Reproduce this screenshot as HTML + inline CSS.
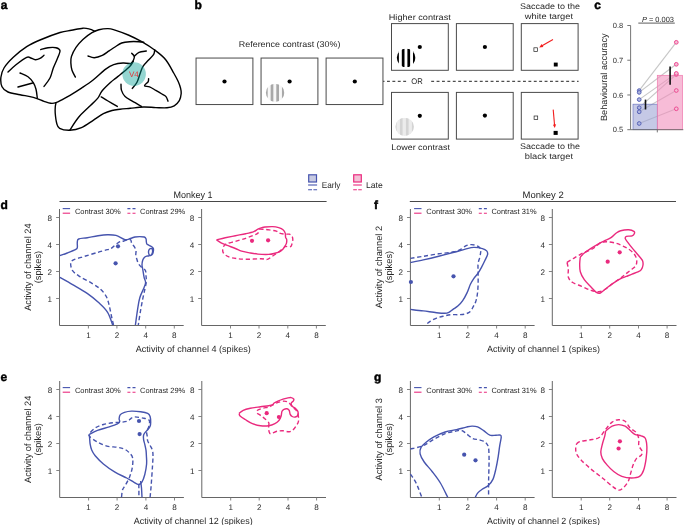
<!DOCTYPE html>
<html><head><meta charset="utf-8"><style>
html,body{margin:0;padding:0;background:#fff;}
svg{display:block;}
text{font-family:"Liberation Sans",sans-serif;text-rendering:geometricPrecision;}
svg{will-change:transform;}
</style></head><body>
<svg width="685" height="525" viewBox="0 0 685 525">
<rect width="685" height="525" fill="#fff"/>
<text x="0.8" y="9.2" font-size="12" text-anchor="start" font-weight="bold" fill="#000" stroke="#000" stroke-width="0.45">a</text>
<text x="194.6" y="9.1" font-size="12" text-anchor="start" font-weight="bold" fill="#000" stroke="#000" stroke-width="0.45">b</text>
<text x="594.3" y="9.1" font-size="12" text-anchor="start" font-weight="bold" fill="#000" stroke="#000" stroke-width="0.45">c</text>
<text x="0.6" y="209" font-size="12" text-anchor="start" font-weight="bold" fill="#000" stroke="#000" stroke-width="0.45">d</text>
<text x="0.6" y="381" font-size="12" text-anchor="start" font-weight="bold" fill="#000" stroke="#000" stroke-width="0.45">e</text>
<text x="374" y="209" font-size="12" text-anchor="start" font-weight="bold" fill="#000" stroke="#000" stroke-width="0.45">f</text>
<text x="374" y="381" font-size="12" text-anchor="start" font-weight="bold" fill="#000" stroke="#000" stroke-width="0.45">g</text>
<path d="M94.9,31.2C94.03,30.85 91.7,29.6 89.7,29.1C87.7,28.6 85.95,28 82.9,28.2C79.85,28.4 75.22,29.58 71.4,30.3C67.58,31.02 65.23,30.88 60,32.5C54.77,34.12 45.55,37.63 40,40C34.45,42.37 31.15,43.82 26.7,46.7C22.25,49.58 17.08,53.75 13.3,57.3C9.52,60.85 6.07,64.67 4,68C1.93,71.33 1.23,74.18 0.9,77.3C0.57,80.42 0.82,84.25 2,86.7C3.18,89.15 5,90.67 8,92C11,93.33 15.78,93.82 20,94.7C24.22,95.58 29.3,96.2 33.3,97.3C37.3,98.4 41.1,100.3 44,101.3C46.9,102.3 48.7,103.07 50.7,103.3C52.7,103.53 54,103.37 56,102.7C58,102.03 60.37,100.53 62.7,99.3C65.03,98.07 66.87,97.17 70,95.3C73.13,93.43 77.65,90.65 81.5,88.1C85.35,85.55 89.07,83.17 93.1,80C97.13,76.83 102.27,71.67 105.7,69.1C109.13,66.53 110.82,65.62 113.7,64.6C116.58,63.58 120.12,63.15 123,63C125.88,62.85 129.67,63.58 131,63.7" fill="none" stroke="#000" stroke-width="1.4" stroke-linecap="round" stroke-linejoin="round"/>
<path d="M75.4,77.1C74.83,75.97 72.75,72.58 72,70.3C71.25,68.02 71,65.68 70.9,63.4C70.8,61.12 70.55,59.27 71.4,56.6C72.25,53.93 74.08,50.27 76,47.4C77.92,44.53 80.23,41.87 82.9,39.4C85.57,36.93 89.33,34.22 92,32.6C94.67,30.98 96.23,30.37 98.9,29.7C101.57,29.03 105.32,28.53 108,28.6C110.68,28.67 111.62,29.03 115,30.1C118.38,31.17 123.85,33.07 128.3,35C132.75,36.93 137.25,39.15 141.7,41.7C146.15,44.25 151,47.3 155,50.3C159,53.3 162.58,55.92 165.7,59.7C168.82,63.48 171.62,69.37 173.7,73C175.78,76.63 177.07,79 178.2,81.5C179.33,84 180,86 180.5,88C181,90 181.4,91.38 181.2,93.5C181,95.62 180.47,98.65 179.3,100.7C178.13,102.75 176.25,104.62 174.2,105.8C172.15,106.98 170.07,107.5 167,107.8C163.93,108.1 159.72,107.73 155.8,107.6C151.88,107.47 147.77,106.88 143.5,107C139.23,107.12 134.12,107.92 130.2,108.3C126.28,108.68 123.03,108.93 120,109.3C116.97,109.67 114.77,109.77 112,110.5C109.23,111.23 106.53,112.07 103.4,113.7C100.27,115.33 96.85,117.98 93.2,120.3C89.55,122.62 85.4,125.95 81.5,127.6C77.6,129.25 73.45,130.08 69.8,130.2C66.15,130.32 61.78,129.47 59.6,128.3C57.42,127.13 57.43,125.75 56.7,123.2C55.97,120.65 55.43,115.75 55.2,113C54.97,110.25 55.17,108.42 55.3,106.7C55.43,104.98 55.88,103.37 56,102.7" fill="none" stroke="#000" stroke-width="1.4" stroke-linecap="round" stroke-linejoin="round"/>
<path d="M88,56C89.05,56.28 91.92,57.8 94.3,57.7C96.68,57.6 99.83,56.53 102.3,55.4C104.77,54.27 106.98,52.3 109.1,50.9C111.22,49.5 112.9,48.32 115,47C117.1,45.68 119.25,43.88 121.7,43C124.15,42.12 126.82,41.92 129.7,41.7C132.58,41.48 136.67,41.6 139,41.7C141.33,41.8 142.92,42.2 143.7,42.3" fill="none" stroke="#000" stroke-width="1.4" stroke-linecap="round" stroke-linejoin="round"/>
<path d="M131.7,53.3C132.13,53.8 134,55.18 134.3,56.3C134.6,57.42 134.05,58.77 133.5,60C132.95,61.23 131.42,63.08 131,63.7" fill="none" stroke="#000" stroke-width="1.4" stroke-linecap="round" stroke-linejoin="round"/>
<path d="M134.3,56.3C135.08,55.63 137,53.18 139,52.3C141,51.42 145.08,51.22 146.3,51" fill="none" stroke="#000" stroke-width="1.4" stroke-linecap="round" stroke-linejoin="round"/>
<path d="M154.7,49.7C154.53,50.47 154.77,52.53 153.7,54.3C152.63,56.07 150.08,58.3 148.3,60.3C146.52,62.3 144.33,64.18 143,66.3C141.67,68.42 141.3,70.33 140.3,73C139.3,75.67 138.33,79.73 137,82.3C135.67,84.87 133.08,87.38 132.3,88.4" fill="none" stroke="#000" stroke-width="1.4" stroke-linecap="round" stroke-linejoin="round"/>
<path d="M148.6,78.7C148.52,79.22 148.78,80.62 148.1,81.8C147.42,82.98 144.25,84.95 144.5,85.8C144.75,86.65 147.72,86.13 149.6,86.9C151.48,87.67 153.75,89.22 155.8,90.4C157.85,91.58 160.2,92.97 161.9,94C163.6,95.03 164.98,95.4 166,96.6C167.02,97.8 167.67,100.43 168,101.2" fill="none" stroke="#000" stroke-width="1.4" stroke-linecap="round" stroke-linejoin="round"/>
<path d="M69.8,130.2C71.27,128.05 75.43,121.15 78.6,117.3C81.77,113.45 85.63,110.25 88.8,107.1C91.97,103.95 95.4,101.08 97.6,98.4C99.8,95.72 99.82,93.68 102,91C104.18,88.32 108.45,84.4 110.7,82.3C112.95,80.2 113.78,79.78 115.5,78.4C117.22,77.02 119.17,75.5 121,74C122.83,72.5 124.87,70.87 126.5,69.4C128.13,67.93 129.65,66.57 130.8,65.2C131.95,63.83 132.97,61.87 133.4,61.2" fill="none" stroke="#000" stroke-width="1.4" stroke-linecap="round" stroke-linejoin="round"/>
<path d="M121,84.3C121.08,85.32 120.82,88.35 121.5,90.4C122.18,92.45 123.3,94.8 125.1,96.6C126.9,98.4 129.57,99.58 132.3,101.2C135.03,102.82 139.97,105.45 141.5,106.3" fill="none" stroke="#000" stroke-width="1.4" stroke-linecap="round" stroke-linejoin="round"/>
<path d="M101.2,96.9C102.33,97.58 105.32,99.42 108,101C110.68,102.58 115.75,105.5 117.3,106.4" fill="none" stroke="#000" stroke-width="1.4" stroke-linecap="round" stroke-linejoin="round"/>
<path d="M8,72C9.33,70.78 12.88,67.15 16,64.7C19.12,62.25 24.25,58.42 26.7,57.3C29.15,56.18 29.27,57.6 30.7,58C32.13,58.4 33.75,59.63 35.3,59.7C36.85,59.77 38.55,59.13 40,58.4C41.45,57.67 43.33,55.82 44,55.3" fill="none" stroke="#000" stroke-width="1.4" stroke-linecap="round" stroke-linejoin="round"/>
<path d="M40.7,49.6C41.92,49.28 45.45,48.02 48,47.7C50.55,47.38 54,47.2 56,47.7C58,48.2 59.78,48.87 60,50.7C60.22,52.53 58.42,55.82 57.3,58.7C56.18,61.58 54.52,64.78 53.3,68C52.08,71.22 51.55,74.93 50,78C48.45,81.07 45,85 44,86.4" fill="none" stroke="#000" stroke-width="1.4" stroke-linecap="round" stroke-linejoin="round"/>
<path d="M20,73C21.33,73.62 25.78,75.08 28,76.7C30.22,78.32 31.97,80.6 33.3,82.7C34.63,84.8 35.33,86.75 36,89.3C36.67,91.85 37.08,96.55 37.3,98" fill="none" stroke="#000" stroke-width="1.4" stroke-linecap="round" stroke-linejoin="round"/>
<path d="M18,87C20.45,86.33 30.25,83.67 32.7,83" fill="none" stroke="#000" stroke-width="1.4" stroke-linecap="round" stroke-linejoin="round"/>
<circle cx="134.1" cy="74.1" r="11.8" fill="rgb(0,157,145)" fill-opacity="0.42"/>
<text x="133.9" y="76.8" font-size="8.1" text-anchor="middle" font-weight="normal" fill="#e03a3c" textLength="9.9" lengthAdjust="spacingAndGlyphs">V4</text>
<defs><clipPath id="g1"><circle cx="275.1" cy="92.85" r="9.2"/></clipPath><clipPath id="g2"><circle cx="406.1" cy="57.8" r="9.3"/></clipPath><clipPath id="g3"><circle cx="404.65" cy="126.85" r="9.2"/></clipPath></defs>
<rect x="196.05" y="58.05" width="56.85" height="46.5" fill="#fff" stroke="#4a4a4a" stroke-width="1"/>
<rect x="261.05" y="58.05" width="56.85" height="46.5" fill="#fff" stroke="#4a4a4a" stroke-width="1"/>
<rect x="326.1" y="58.05" width="56.85" height="46.5" fill="#fff" stroke="#4a4a4a" stroke-width="1"/>
<circle cx="224.5" cy="81.5" r="2.1" fill="#000"/>
<circle cx="289.6" cy="81.5" r="2.1" fill="#000"/>
<circle cx="354.8" cy="81.5" r="2.1" fill="#000"/>
<g clip-path="url(#g1)"><rect x="265.90000000000003" y="83.64999999999999" width="18.4" height="18.4" fill="#f7f7f7"/>
<rect x="265.00" y="83.64999999999999" width="2.70" height="18.4" fill="#a8a8a8"/>
<rect x="270.65" y="83.64999999999999" width="2.70" height="18.4" fill="#a8a8a8"/>
<rect x="276.30" y="83.64999999999999" width="2.70" height="18.4" fill="#a8a8a8"/>
<rect x="281.95" y="83.64999999999999" width="2.70" height="18.4" fill="#a8a8a8"/>
</g>
<text x="289.6" y="47.1" font-size="8.4" text-anchor="middle" font-weight="normal" fill="#262626" textLength="101.6" lengthAdjust="spacingAndGlyphs">Reference contrast (30%)</text>
<rect x="391.5" y="23.6" width="56.8" height="46.7" fill="#fff" stroke="#4a4a4a" stroke-width="1"/>
<rect x="456.4" y="23.6" width="56.8" height="46.7" fill="#fff" stroke="#4a4a4a" stroke-width="1"/>
<rect x="521.3" y="23.6" width="56.8" height="46.7" fill="#fff" stroke="#4a4a4a" stroke-width="1"/>
<rect x="391.5" y="92.4" width="56.8" height="46.7" fill="#fff" stroke="#4a4a4a" stroke-width="1"/>
<rect x="456.4" y="92.4" width="56.8" height="46.7" fill="#fff" stroke="#4a4a4a" stroke-width="1"/>
<rect x="521.3" y="92.4" width="56.8" height="46.7" fill="#fff" stroke="#4a4a4a" stroke-width="1"/>
<g clip-path="url(#g2)"><rect x="396.8" y="48.5" width="18.6" height="18.6" fill="#fff"/>
<rect x="396.20" y="48.5" width="2.70" height="18.6" fill="#000"/>
<rect x="401.80" y="48.5" width="2.70" height="18.6" fill="#000"/>
<rect x="407.40" y="48.5" width="2.70" height="18.6" fill="#000"/>
<rect x="413.00" y="48.5" width="2.70" height="18.6" fill="#000"/>
</g>
<g clip-path="url(#g3)"><rect x="395.45" y="117.64999999999999" width="18.4" height="18.4" fill="#ececec"/>
<rect x="393.90" y="117.64999999999999" width="2.70" height="18.4" fill="#d4d4d4"/>
<rect x="399.90" y="117.64999999999999" width="2.70" height="18.4" fill="#d4d4d4"/>
<rect x="405.90" y="117.64999999999999" width="2.70" height="18.4" fill="#d4d4d4"/>
<rect x="411.90" y="117.64999999999999" width="2.70" height="18.4" fill="#d4d4d4"/>
</g>
<circle cx="419.8" cy="47" r="2.1" fill="#000"/>
<circle cx="484.9" cy="47" r="2.1" fill="#000"/>
<circle cx="419.8" cy="115.8" r="2.1" fill="#000"/>
<circle cx="484.9" cy="115.6" r="2.1" fill="#000"/>
<rect x="533.9" y="47.8" width="3.6" height="3.6" fill="#fff" stroke="#222" stroke-width="0.7"/>
<rect x="553.8" y="62.6" width="3.9" height="3.9" fill="#000"/>
<rect x="534.1" y="116" width="3.6" height="3.6" fill="#fff" stroke="#222" stroke-width="0.7"/>
<rect x="553.6" y="130.9" width="4.1" height="4" fill="#000"/>
<line x1="553.00" y1="39.50" x2="542.05" y2="45.84" stroke="#f21d1d" stroke-width="1.1"/>
<path d="M539.20,47.50 L541.61,44.08 L543.37,47.11 Z" fill="#f21d1d"/>
<line x1="553.20" y1="109.60" x2="554.55" y2="125.01" stroke="#f21d1d" stroke-width="1.1"/>
<path d="M554.80,127.90 L552.91,124.65 L556.10,124.37 Z" fill="#f21d1d"/>
<line x1="383.2" y1="81.3" x2="406.2" y2="81.3" stroke="#222" stroke-width="1" stroke-dasharray="2.9 2.5" stroke-dashoffset="1.6"/>
<line x1="431.2" y1="81.3" x2="578.6" y2="81.3" stroke="#222" stroke-width="1" stroke-dasharray="2.9 2.5"/>
<text x="417" y="84.2" font-size="8.2" text-anchor="middle" font-weight="normal" fill="#262626" textLength="11.5" lengthAdjust="spacingAndGlyphs">OR</text>
<text x="419.8" y="19.8" font-size="8.2" text-anchor="middle" font-weight="normal" fill="#262626" textLength="62.1" lengthAdjust="spacingAndGlyphs">Higher contrast</text>
<text x="420.6" y="149.7" font-size="8.2" text-anchor="middle" font-weight="normal" fill="#262626" textLength="58.7" lengthAdjust="spacingAndGlyphs">Lower contrast</text>
<text x="550" y="9.3" font-size="8.2" text-anchor="middle" font-weight="normal" fill="#262626" textLength="60.1" lengthAdjust="spacingAndGlyphs">Saccade to the</text>
<text x="548.9" y="18.9" font-size="8.2" text-anchor="middle" font-weight="normal" fill="#262626" textLength="48.2" lengthAdjust="spacingAndGlyphs">white target</text>
<text x="550" y="149.4" font-size="8.2" text-anchor="middle" font-weight="normal" fill="#262626" textLength="60.1" lengthAdjust="spacingAndGlyphs">Saccade to the</text>
<text x="548.9" y="159.4" font-size="8.2" text-anchor="middle" font-weight="normal" fill="#262626" textLength="48.2" lengthAdjust="spacingAndGlyphs">black target</text>
<line x1="639.1" y1="90.6" x2="676.2" y2="42.3" stroke="#c6c6c6" stroke-width="1.1"/>
<line x1="639.1" y1="92.4" x2="676.2" y2="64.3" stroke="#c6c6c6" stroke-width="1.1"/>
<line x1="639.1" y1="99.6" x2="676.2" y2="73.4" stroke="#c6c6c6" stroke-width="1.1"/>
<line x1="639.1" y1="107.7" x2="676.2" y2="74.5" stroke="#c6c6c6" stroke-width="1.1"/>
<line x1="639.1" y1="111.8" x2="676.2" y2="90.5" stroke="#c6c6c6" stroke-width="1.1"/>
<line x1="639.1" y1="123.5" x2="676.2" y2="108.8" stroke="#c6c6c6" stroke-width="1.1"/>
<rect x="633" y="104.20" width="24.3" height="25.50" fill="#9ea5d5" fill-opacity="0.6" stroke="#6f79c2" stroke-width="0.7"/>
<rect x="657.3" y="75.30" width="25.3" height="54.40" fill="#f290bd" fill-opacity="0.6" stroke="#f07aae" stroke-width="0.7"/>
<circle cx="639.2" cy="90.6" r="1.85" fill="#b0b6e0" stroke="#5461b6" stroke-width="1"/>
<circle cx="639.2" cy="92.4" r="1.85" fill="#b0b6e0" stroke="#5461b6" stroke-width="1"/>
<circle cx="639.2" cy="99.6" r="1.85" fill="#b0b6e0" stroke="#5461b6" stroke-width="1"/>
<circle cx="639.2" cy="107.7" r="1.85" fill="#b0b6e0" stroke="#5461b6" stroke-width="1"/>
<circle cx="639.2" cy="111.8" r="1.85" fill="#b0b6e0" stroke="#5461b6" stroke-width="1"/>
<circle cx="639.2" cy="123.5" r="1.85" fill="#b0b6e0" stroke="#5461b6" stroke-width="1"/>
<circle cx="676.3" cy="74.5" r="1.85" fill="#f4bcd5" stroke="#ee4a92" stroke-width="1"/>
<circle cx="676.3" cy="73.4" r="1.85" fill="#f4bcd5" stroke="#ee4a92" stroke-width="1"/>
<circle cx="676.3" cy="64.3" r="1.85" fill="#f4bcd5" stroke="#ee4a92" stroke-width="1"/>
<circle cx="676.3" cy="42.3" r="1.85" fill="#f4bcd5" stroke="#ee4a92" stroke-width="1"/>
<circle cx="676.3" cy="90.5" r="1.85" fill="#f4bcd5" stroke="#ee4a92" stroke-width="1"/>
<circle cx="676.3" cy="108.8" r="1.85" fill="#f4bcd5" stroke="#ee4a92" stroke-width="1"/>
<line x1="645.5" y1="99.6" x2="645.5" y2="109.5" stroke="#111" stroke-width="1.6"/>
<line x1="670.1" y1="66.4" x2="670.1" y2="84.7" stroke="#111" stroke-width="1.6"/>
<path d="M627.3,25.5 H630.6 V129.7 H683.3" fill="none" stroke="#666" stroke-width="0.9"/>
<line x1="627.3" y1="60.23" x2="630.6" y2="60.23" stroke="#666" stroke-width="0.9"/>
<line x1="627.3" y1="94.97" x2="630.6" y2="94.97" stroke="#666" stroke-width="0.9"/>
<line x1="627.3" y1="129.70" x2="630.6" y2="129.70" stroke="#666" stroke-width="0.9"/>
<line x1="657.3" y1="129.7" x2="657.3" y2="132.4" stroke="#666" stroke-width="0.9"/>
<text x="623.2" y="28.14999999999997" font-size="7.5" text-anchor="end" font-weight="normal" fill="#2e2e2e">0.8</text>
<text x="623.2" y="62.88333333333335" font-size="7.5" text-anchor="end" font-weight="normal" fill="#2e2e2e">0.7</text>
<text x="623.2" y="97.61666666666667" font-size="7.5" text-anchor="end" font-weight="normal" fill="#2e2e2e">0.6</text>
<text x="623.2" y="132.35" font-size="7.5" text-anchor="end" font-weight="normal" fill="#2e2e2e">0.5</text>
<line x1="638.3" y1="23.1" x2="674.8" y2="23.1" stroke="#333" stroke-width="0.8"/>
<text x="641.9" y="21.6" font-size="7.4" text-anchor="start" font-weight="normal" fill="#262626" textLength="32.1" lengthAdjust="spacingAndGlyphs"><tspan font-style="italic">P</tspan> = 0.003</text>
<text transform="translate(606.5,77.2) rotate(-90)" font-size="9" text-anchor="middle" fill="#262626" textLength="87.6" lengthAdjust="spacingAndGlyphs">Behavioural accuracy</text>
<line x1="59.5" y1="201.5" x2="326.6" y2="201.5" stroke="#333" stroke-width="0.9"/>
<line x1="409.8" y1="201.5" x2="676" y2="201.5" stroke="#333" stroke-width="0.9"/>
<text x="193" y="198" font-size="9.3" text-anchor="middle" font-weight="normal" fill="#262626" textLength="39.1" lengthAdjust="spacingAndGlyphs">Monkey 1</text>
<text x="543.2" y="198" font-size="9.3" text-anchor="middle" font-weight="normal" fill="#262626" textLength="41.2" lengthAdjust="spacingAndGlyphs">Monkey 2</text>
<rect x="308.7" y="174.8" width="7.8" height="7.2" fill="#c7cae2" stroke="#4654ae" stroke-width="1.2"/>
<line x1="308.1" y1="185" x2="317.1" y2="185" stroke="#4654ae" stroke-width="1.1"/>
<line x1="308.1" y1="189.7" x2="317.1" y2="189.7" stroke="#4654ae" stroke-width="1.1" stroke-dasharray="3.9 1.4"/>
<text x="321.7" y="187.6" font-size="8.5" text-anchor="start" font-weight="normal" fill="#262626" textLength="18.8" lengthAdjust="spacingAndGlyphs">Early</text>
<rect x="353.7" y="174.8" width="7.6" height="7.2" fill="#f3c0d6" stroke="#ea2a7e" stroke-width="1.2"/>
<line x1="353.2" y1="185" x2="361.8" y2="185" stroke="#ea2a7e" stroke-width="1.1"/>
<line x1="353.2" y1="189.7" x2="361.8" y2="189.7" stroke="#ea2a7e" stroke-width="1.1" stroke-dasharray="3.7 1.3"/>
<text x="366" y="187.6" font-size="8.5" text-anchor="start" font-weight="normal" fill="#262626" textLength="16.8" lengthAdjust="spacingAndGlyphs">Late</text>
<path d="M59.50,209.00 V325.50 H183.70" fill="none" stroke="#666" stroke-width="1"/>
<line x1="88.40" y1="325.50" x2="88.40" y2="328.50" stroke="#777" stroke-width="0.9"/>
<text x="88.40" y="338.00" font-size="8.1" text-anchor="middle" font-weight="normal" fill="#2e2e2e">1</text>
<line x1="56.10" y1="298.50" x2="59.50" y2="298.50" stroke="#777" stroke-width="0.9"/>
<text x="52.10" y="301.80" font-size="8.1" text-anchor="end" font-weight="normal" fill="#2e2e2e">1</text>
<line x1="116.90" y1="325.50" x2="116.90" y2="328.50" stroke="#777" stroke-width="0.9"/>
<text x="116.90" y="338.00" font-size="8.1" text-anchor="middle" font-weight="normal" fill="#2e2e2e">2</text>
<line x1="56.10" y1="271.50" x2="59.50" y2="271.50" stroke="#777" stroke-width="0.9"/>
<text x="52.10" y="274.80" font-size="8.1" text-anchor="end" font-weight="normal" fill="#2e2e2e">2</text>
<line x1="145.70" y1="325.50" x2="145.70" y2="328.50" stroke="#777" stroke-width="0.9"/>
<text x="145.70" y="338.00" font-size="8.1" text-anchor="middle" font-weight="normal" fill="#2e2e2e">4</text>
<line x1="56.10" y1="244.50" x2="59.50" y2="244.50" stroke="#777" stroke-width="0.9"/>
<text x="52.10" y="247.80" font-size="8.1" text-anchor="end" font-weight="normal" fill="#2e2e2e">4</text>
<line x1="174.30" y1="325.50" x2="174.30" y2="328.50" stroke="#777" stroke-width="0.9"/>
<text x="174.30" y="338.00" font-size="8.1" text-anchor="middle" font-weight="normal" fill="#2e2e2e">8</text>
<line x1="56.10" y1="217.50" x2="59.50" y2="217.50" stroke="#777" stroke-width="0.9"/>
<text x="52.10" y="220.80" font-size="8.1" text-anchor="end" font-weight="normal" fill="#2e2e2e">8</text>
<path d="M201.60,209.00 V325.50 H325.80" fill="none" stroke="#666" stroke-width="1"/>
<line x1="230.50" y1="325.50" x2="230.50" y2="328.50" stroke="#777" stroke-width="0.9"/>
<text x="230.50" y="338.00" font-size="8.1" text-anchor="middle" font-weight="normal" fill="#2e2e2e">1</text>
<line x1="198.20" y1="298.50" x2="201.60" y2="298.50" stroke="#777" stroke-width="0.9"/>
<text x="194.20" y="301.80" font-size="8.1" text-anchor="end" font-weight="normal" fill="#2e2e2e">1</text>
<line x1="259.00" y1="325.50" x2="259.00" y2="328.50" stroke="#777" stroke-width="0.9"/>
<text x="259.00" y="338.00" font-size="8.1" text-anchor="middle" font-weight="normal" fill="#2e2e2e">2</text>
<line x1="198.20" y1="271.50" x2="201.60" y2="271.50" stroke="#777" stroke-width="0.9"/>
<text x="194.20" y="274.80" font-size="8.1" text-anchor="end" font-weight="normal" fill="#2e2e2e">2</text>
<line x1="287.80" y1="325.50" x2="287.80" y2="328.50" stroke="#777" stroke-width="0.9"/>
<text x="287.80" y="338.00" font-size="8.1" text-anchor="middle" font-weight="normal" fill="#2e2e2e">4</text>
<line x1="198.20" y1="244.50" x2="201.60" y2="244.50" stroke="#777" stroke-width="0.9"/>
<text x="194.20" y="247.80" font-size="8.1" text-anchor="end" font-weight="normal" fill="#2e2e2e">4</text>
<line x1="316.40" y1="325.50" x2="316.40" y2="328.50" stroke="#777" stroke-width="0.9"/>
<text x="316.40" y="338.00" font-size="8.1" text-anchor="middle" font-weight="normal" fill="#2e2e2e">8</text>
<line x1="198.20" y1="217.50" x2="201.60" y2="217.50" stroke="#777" stroke-width="0.9"/>
<text x="194.20" y="220.80" font-size="8.1" text-anchor="end" font-weight="normal" fill="#2e2e2e">8</text>
<path d="M410.40,209.00 V325.50 H534.60" fill="none" stroke="#666" stroke-width="1"/>
<line x1="439.30" y1="325.50" x2="439.30" y2="328.50" stroke="#777" stroke-width="0.9"/>
<text x="439.30" y="338.00" font-size="8.1" text-anchor="middle" font-weight="normal" fill="#2e2e2e">1</text>
<line x1="407.00" y1="298.50" x2="410.40" y2="298.50" stroke="#777" stroke-width="0.9"/>
<text x="403.00" y="301.80" font-size="8.1" text-anchor="end" font-weight="normal" fill="#2e2e2e">1</text>
<line x1="467.80" y1="325.50" x2="467.80" y2="328.50" stroke="#777" stroke-width="0.9"/>
<text x="467.80" y="338.00" font-size="8.1" text-anchor="middle" font-weight="normal" fill="#2e2e2e">2</text>
<line x1="407.00" y1="271.50" x2="410.40" y2="271.50" stroke="#777" stroke-width="0.9"/>
<text x="403.00" y="274.80" font-size="8.1" text-anchor="end" font-weight="normal" fill="#2e2e2e">2</text>
<line x1="496.60" y1="325.50" x2="496.60" y2="328.50" stroke="#777" stroke-width="0.9"/>
<text x="496.60" y="338.00" font-size="8.1" text-anchor="middle" font-weight="normal" fill="#2e2e2e">4</text>
<line x1="407.00" y1="244.50" x2="410.40" y2="244.50" stroke="#777" stroke-width="0.9"/>
<text x="403.00" y="247.80" font-size="8.1" text-anchor="end" font-weight="normal" fill="#2e2e2e">4</text>
<line x1="525.20" y1="325.50" x2="525.20" y2="328.50" stroke="#777" stroke-width="0.9"/>
<text x="525.20" y="338.00" font-size="8.1" text-anchor="middle" font-weight="normal" fill="#2e2e2e">8</text>
<line x1="407.00" y1="217.50" x2="410.40" y2="217.50" stroke="#777" stroke-width="0.9"/>
<text x="403.00" y="220.80" font-size="8.1" text-anchor="end" font-weight="normal" fill="#2e2e2e">8</text>
<path d="M552.30,209.00 V325.50 H676.50" fill="none" stroke="#666" stroke-width="1"/>
<line x1="581.20" y1="325.50" x2="581.20" y2="328.50" stroke="#777" stroke-width="0.9"/>
<text x="581.20" y="338.00" font-size="8.1" text-anchor="middle" font-weight="normal" fill="#2e2e2e">1</text>
<line x1="548.90" y1="298.50" x2="552.30" y2="298.50" stroke="#777" stroke-width="0.9"/>
<text x="544.90" y="301.80" font-size="8.1" text-anchor="end" font-weight="normal" fill="#2e2e2e">1</text>
<line x1="609.70" y1="325.50" x2="609.70" y2="328.50" stroke="#777" stroke-width="0.9"/>
<text x="609.70" y="338.00" font-size="8.1" text-anchor="middle" font-weight="normal" fill="#2e2e2e">2</text>
<line x1="548.90" y1="271.50" x2="552.30" y2="271.50" stroke="#777" stroke-width="0.9"/>
<text x="544.90" y="274.80" font-size="8.1" text-anchor="end" font-weight="normal" fill="#2e2e2e">2</text>
<line x1="638.50" y1="325.50" x2="638.50" y2="328.50" stroke="#777" stroke-width="0.9"/>
<text x="638.50" y="338.00" font-size="8.1" text-anchor="middle" font-weight="normal" fill="#2e2e2e">4</text>
<line x1="548.90" y1="244.50" x2="552.30" y2="244.50" stroke="#777" stroke-width="0.9"/>
<text x="544.90" y="247.80" font-size="8.1" text-anchor="end" font-weight="normal" fill="#2e2e2e">4</text>
<line x1="667.10" y1="325.50" x2="667.10" y2="328.50" stroke="#777" stroke-width="0.9"/>
<text x="667.10" y="338.00" font-size="8.1" text-anchor="middle" font-weight="normal" fill="#2e2e2e">8</text>
<line x1="548.90" y1="217.50" x2="552.30" y2="217.50" stroke="#777" stroke-width="0.9"/>
<text x="544.90" y="220.80" font-size="8.1" text-anchor="end" font-weight="normal" fill="#2e2e2e">8</text>
<path d="M59.70,381.00 V497.50 H183.90" fill="none" stroke="#666" stroke-width="1"/>
<line x1="88.60" y1="497.50" x2="88.60" y2="500.50" stroke="#777" stroke-width="0.9"/>
<text x="88.60" y="510.00" font-size="8.1" text-anchor="middle" font-weight="normal" fill="#2e2e2e">1</text>
<line x1="56.30" y1="470.50" x2="59.70" y2="470.50" stroke="#777" stroke-width="0.9"/>
<text x="52.30" y="473.80" font-size="8.1" text-anchor="end" font-weight="normal" fill="#2e2e2e">1</text>
<line x1="117.10" y1="497.50" x2="117.10" y2="500.50" stroke="#777" stroke-width="0.9"/>
<text x="117.10" y="510.00" font-size="8.1" text-anchor="middle" font-weight="normal" fill="#2e2e2e">2</text>
<line x1="56.30" y1="443.50" x2="59.70" y2="443.50" stroke="#777" stroke-width="0.9"/>
<text x="52.30" y="446.80" font-size="8.1" text-anchor="end" font-weight="normal" fill="#2e2e2e">2</text>
<line x1="145.90" y1="497.50" x2="145.90" y2="500.50" stroke="#777" stroke-width="0.9"/>
<text x="145.90" y="510.00" font-size="8.1" text-anchor="middle" font-weight="normal" fill="#2e2e2e">4</text>
<line x1="56.30" y1="416.50" x2="59.70" y2="416.50" stroke="#777" stroke-width="0.9"/>
<text x="52.30" y="419.80" font-size="8.1" text-anchor="end" font-weight="normal" fill="#2e2e2e">4</text>
<line x1="174.50" y1="497.50" x2="174.50" y2="500.50" stroke="#777" stroke-width="0.9"/>
<text x="174.50" y="510.00" font-size="8.1" text-anchor="middle" font-weight="normal" fill="#2e2e2e">8</text>
<line x1="56.30" y1="389.50" x2="59.70" y2="389.50" stroke="#777" stroke-width="0.9"/>
<text x="52.30" y="392.80" font-size="8.1" text-anchor="end" font-weight="normal" fill="#2e2e2e">8</text>
<path d="M201.80,381.00 V497.50 H326.00" fill="none" stroke="#666" stroke-width="1"/>
<line x1="230.70" y1="497.50" x2="230.70" y2="500.50" stroke="#777" stroke-width="0.9"/>
<text x="230.70" y="510.00" font-size="8.1" text-anchor="middle" font-weight="normal" fill="#2e2e2e">1</text>
<line x1="198.40" y1="470.50" x2="201.80" y2="470.50" stroke="#777" stroke-width="0.9"/>
<text x="194.40" y="473.80" font-size="8.1" text-anchor="end" font-weight="normal" fill="#2e2e2e">1</text>
<line x1="259.20" y1="497.50" x2="259.20" y2="500.50" stroke="#777" stroke-width="0.9"/>
<text x="259.20" y="510.00" font-size="8.1" text-anchor="middle" font-weight="normal" fill="#2e2e2e">2</text>
<line x1="198.40" y1="443.50" x2="201.80" y2="443.50" stroke="#777" stroke-width="0.9"/>
<text x="194.40" y="446.80" font-size="8.1" text-anchor="end" font-weight="normal" fill="#2e2e2e">2</text>
<line x1="288.00" y1="497.50" x2="288.00" y2="500.50" stroke="#777" stroke-width="0.9"/>
<text x="288.00" y="510.00" font-size="8.1" text-anchor="middle" font-weight="normal" fill="#2e2e2e">4</text>
<line x1="198.40" y1="416.50" x2="201.80" y2="416.50" stroke="#777" stroke-width="0.9"/>
<text x="194.40" y="419.80" font-size="8.1" text-anchor="end" font-weight="normal" fill="#2e2e2e">4</text>
<line x1="316.60" y1="497.50" x2="316.60" y2="500.50" stroke="#777" stroke-width="0.9"/>
<text x="316.60" y="510.00" font-size="8.1" text-anchor="middle" font-weight="normal" fill="#2e2e2e">8</text>
<line x1="198.40" y1="389.50" x2="201.80" y2="389.50" stroke="#777" stroke-width="0.9"/>
<text x="194.40" y="392.80" font-size="8.1" text-anchor="end" font-weight="normal" fill="#2e2e2e">8</text>
<path d="M410.40,381.00 V497.50 H534.60" fill="none" stroke="#666" stroke-width="1"/>
<line x1="439.30" y1="497.50" x2="439.30" y2="500.50" stroke="#777" stroke-width="0.9"/>
<text x="439.30" y="510.00" font-size="8.1" text-anchor="middle" font-weight="normal" fill="#2e2e2e">1</text>
<line x1="407.00" y1="470.50" x2="410.40" y2="470.50" stroke="#777" stroke-width="0.9"/>
<text x="403.00" y="473.80" font-size="8.1" text-anchor="end" font-weight="normal" fill="#2e2e2e">1</text>
<line x1="467.80" y1="497.50" x2="467.80" y2="500.50" stroke="#777" stroke-width="0.9"/>
<text x="467.80" y="510.00" font-size="8.1" text-anchor="middle" font-weight="normal" fill="#2e2e2e">2</text>
<line x1="407.00" y1="443.50" x2="410.40" y2="443.50" stroke="#777" stroke-width="0.9"/>
<text x="403.00" y="446.80" font-size="8.1" text-anchor="end" font-weight="normal" fill="#2e2e2e">2</text>
<line x1="496.60" y1="497.50" x2="496.60" y2="500.50" stroke="#777" stroke-width="0.9"/>
<text x="496.60" y="510.00" font-size="8.1" text-anchor="middle" font-weight="normal" fill="#2e2e2e">4</text>
<line x1="407.00" y1="416.50" x2="410.40" y2="416.50" stroke="#777" stroke-width="0.9"/>
<text x="403.00" y="419.80" font-size="8.1" text-anchor="end" font-weight="normal" fill="#2e2e2e">4</text>
<line x1="525.20" y1="497.50" x2="525.20" y2="500.50" stroke="#777" stroke-width="0.9"/>
<text x="525.20" y="510.00" font-size="8.1" text-anchor="middle" font-weight="normal" fill="#2e2e2e">8</text>
<line x1="407.00" y1="389.50" x2="410.40" y2="389.50" stroke="#777" stroke-width="0.9"/>
<text x="403.00" y="392.80" font-size="8.1" text-anchor="end" font-weight="normal" fill="#2e2e2e">8</text>
<path d="M552.30,381.00 V497.50 H676.50" fill="none" stroke="#666" stroke-width="1"/>
<line x1="581.20" y1="497.50" x2="581.20" y2="500.50" stroke="#777" stroke-width="0.9"/>
<text x="581.20" y="510.00" font-size="8.1" text-anchor="middle" font-weight="normal" fill="#2e2e2e">1</text>
<line x1="548.90" y1="470.50" x2="552.30" y2="470.50" stroke="#777" stroke-width="0.9"/>
<text x="544.90" y="473.80" font-size="8.1" text-anchor="end" font-weight="normal" fill="#2e2e2e">1</text>
<line x1="609.70" y1="497.50" x2="609.70" y2="500.50" stroke="#777" stroke-width="0.9"/>
<text x="609.70" y="510.00" font-size="8.1" text-anchor="middle" font-weight="normal" fill="#2e2e2e">2</text>
<line x1="548.90" y1="443.50" x2="552.30" y2="443.50" stroke="#777" stroke-width="0.9"/>
<text x="544.90" y="446.80" font-size="8.1" text-anchor="end" font-weight="normal" fill="#2e2e2e">2</text>
<line x1="638.50" y1="497.50" x2="638.50" y2="500.50" stroke="#777" stroke-width="0.9"/>
<text x="638.50" y="510.00" font-size="8.1" text-anchor="middle" font-weight="normal" fill="#2e2e2e">4</text>
<line x1="548.90" y1="416.50" x2="552.30" y2="416.50" stroke="#777" stroke-width="0.9"/>
<text x="544.90" y="419.80" font-size="8.1" text-anchor="end" font-weight="normal" fill="#2e2e2e">4</text>
<line x1="667.10" y1="497.50" x2="667.10" y2="500.50" stroke="#777" stroke-width="0.9"/>
<text x="667.10" y="510.00" font-size="8.1" text-anchor="middle" font-weight="normal" fill="#2e2e2e">8</text>
<line x1="548.90" y1="389.50" x2="552.30" y2="389.50" stroke="#777" stroke-width="0.9"/>
<text x="544.90" y="392.80" font-size="8.1" text-anchor="end" font-weight="normal" fill="#2e2e2e">8</text>
<line x1="62.70" y1="208.60" x2="70.10" y2="208.60" stroke="#4654ae" stroke-width="1.1"/>
<line x1="62.70" y1="213.20" x2="70.10" y2="213.20" stroke="#ea2a7e" stroke-width="1.1"/>
<text x="74.90" y="214.10" font-size="7.6" text-anchor="start" font-weight="normal" fill="#262626" textLength="45.8" lengthAdjust="spacingAndGlyphs">Contrast 30%</text>
<line x1="127.40" y1="208.60" x2="135.50" y2="208.60" stroke="#4654ae" stroke-width="1.1" stroke-dasharray="3 2.1"/>
<line x1="127.40" y1="213.20" x2="135.50" y2="213.20" stroke="#ea2a7e" stroke-width="1.1" stroke-dasharray="3 2.1"/>
<text x="140.00" y="214.10" font-size="7.6" text-anchor="start" font-weight="normal" fill="#262626" textLength="45.2" lengthAdjust="spacingAndGlyphs">Contrast 29%</text>
<line x1="62.70" y1="387.60" x2="70.10" y2="387.60" stroke="#4654ae" stroke-width="1.1"/>
<line x1="62.70" y1="392.20" x2="70.10" y2="392.20" stroke="#ea2a7e" stroke-width="1.1"/>
<text x="74.90" y="393.10" font-size="7.6" text-anchor="start" font-weight="normal" fill="#262626" textLength="45.8" lengthAdjust="spacingAndGlyphs">Contrast 30%</text>
<line x1="127.40" y1="387.60" x2="135.50" y2="387.60" stroke="#4654ae" stroke-width="1.1" stroke-dasharray="3 2.1"/>
<line x1="127.40" y1="392.20" x2="135.50" y2="392.20" stroke="#ea2a7e" stroke-width="1.1" stroke-dasharray="3 2.1"/>
<text x="140.00" y="393.10" font-size="7.6" text-anchor="start" font-weight="normal" fill="#262626" textLength="45.2" lengthAdjust="spacingAndGlyphs">Contrast 29%</text>
<line x1="414.10" y1="208.60" x2="421.50" y2="208.60" stroke="#4654ae" stroke-width="1.1"/>
<line x1="414.10" y1="213.20" x2="421.50" y2="213.20" stroke="#ea2a7e" stroke-width="1.1"/>
<text x="426.30" y="214.10" font-size="7.6" text-anchor="start" font-weight="normal" fill="#262626" textLength="45.8" lengthAdjust="spacingAndGlyphs">Contrast 30%</text>
<line x1="478.80" y1="208.60" x2="486.90" y2="208.60" stroke="#4654ae" stroke-width="1.1" stroke-dasharray="3 2.1"/>
<line x1="478.80" y1="213.20" x2="486.90" y2="213.20" stroke="#ea2a7e" stroke-width="1.1" stroke-dasharray="3 2.1"/>
<text x="491.40" y="214.10" font-size="7.6" text-anchor="start" font-weight="normal" fill="#262626" textLength="45.2" lengthAdjust="spacingAndGlyphs">Contrast 31%</text>
<line x1="414.10" y1="387.60" x2="421.50" y2="387.60" stroke="#4654ae" stroke-width="1.1"/>
<line x1="414.10" y1="392.20" x2="421.50" y2="392.20" stroke="#ea2a7e" stroke-width="1.1"/>
<text x="426.30" y="393.10" font-size="7.6" text-anchor="start" font-weight="normal" fill="#262626" textLength="45.8" lengthAdjust="spacingAndGlyphs">Contrast 30%</text>
<line x1="478.80" y1="387.60" x2="486.90" y2="387.60" stroke="#4654ae" stroke-width="1.1" stroke-dasharray="3 2.1"/>
<line x1="478.80" y1="392.20" x2="486.90" y2="392.20" stroke="#ea2a7e" stroke-width="1.1" stroke-dasharray="3 2.1"/>
<text x="491.40" y="393.10" font-size="7.6" text-anchor="start" font-weight="normal" fill="#262626" textLength="45.2" lengthAdjust="spacingAndGlyphs">Contrast 31%</text>
<text transform="translate(31.30,267.10) rotate(-90)" font-size="9.25" text-anchor="middle" fill="#262626">Activity of channel 24</text>
<text transform="translate(41.20,267.10) rotate(-90)" font-size="9.25" text-anchor="middle" fill="#262626">(spikes)</text>
<text transform="translate(31.30,439.30) rotate(-90)" font-size="9.25" text-anchor="middle" fill="#262626">Activity of channel 24</text>
<text transform="translate(41.20,439.30) rotate(-90)" font-size="9.25" text-anchor="middle" fill="#262626">(spikes)</text>
<text transform="translate(381.80,267.10) rotate(-90)" font-size="9.25" text-anchor="middle" fill="#262626">Activity of channel 2</text>
<text transform="translate(391.70,267.10) rotate(-90)" font-size="9.25" text-anchor="middle" fill="#262626">(spikes)</text>
<text transform="translate(381.80,439.30) rotate(-90)" font-size="9.25" text-anchor="middle" fill="#262626">Activity of channel 3</text>
<text transform="translate(391.70,439.30) rotate(-90)" font-size="9.25" text-anchor="middle" fill="#262626">(spikes)</text>
<text x="193.3" y="351.7" font-size="9" text-anchor="middle" font-weight="normal" fill="#262626" textLength="115.1" lengthAdjust="spacingAndGlyphs">Activity of channel 4 (spikes)</text>
<text x="193.3" y="523.8" font-size="9" text-anchor="middle" font-weight="normal" fill="#262626" textLength="119" lengthAdjust="spacingAndGlyphs">Activity of channel 12 (spikes)</text>
<text x="543.5" y="351.7" font-size="9" text-anchor="middle" font-weight="normal" fill="#262626" textLength="113" lengthAdjust="spacingAndGlyphs">Activity of channel 1 (spikes)</text>
<text x="543.5" y="523.8" font-size="9" text-anchor="middle" font-weight="normal" fill="#262626" textLength="113" lengthAdjust="spacingAndGlyphs">Activity of channel 2 (spikes)</text>
<path d="M59.8,255.7C61.05,255.25 64.72,254 67.3,253C69.88,252 73.63,250.58 75.3,249.7C76.97,248.82 76.97,248.93 77.3,247.7C77.63,246.47 77.07,243.75 77.3,242.3C77.53,240.85 77.03,239.77 78.7,239C80.37,238.23 84.08,238.25 87.3,237.7C90.52,237.15 94.67,236.2 98,235.7C101.33,235.2 104.3,234.75 107.3,234.7C110.3,234.65 113.05,234.58 116,235.4C118.95,236.22 122.62,239.08 125,239.6C127.38,240.12 128.63,238.93 130.3,238.5C131.97,238.07 133.43,237.32 135,237C136.57,236.68 138.15,236.6 139.7,236.6C141.25,236.6 143.25,236.65 144.3,237C145.35,237.35 145.67,237.98 146,238.7C146.33,239.42 146.17,240.45 146.3,241.3C146.43,242.15 146.35,243.13 146.8,243.8C147.25,244.47 148.18,244.82 149,245.3C149.82,245.78 150.98,246.2 151.7,246.7C152.42,247.2 153.02,247.58 153.3,248.3C153.58,249.02 153.52,250.05 153.4,251C153.28,251.95 153,253.27 152.6,254C152.2,254.73 151.52,255.2 151,255.4C150.48,255.6 149.9,255.6 149.5,255.2C149.1,254.8 148.72,253.82 148.6,253C148.48,252.18 148.52,251.03 148.8,250.3C149.08,249.57 149.77,248.85 150.3,248.6C150.83,248.35 151.62,248.32 152,248.8C152.38,249.28 152.68,250.53 152.6,251.5C152.52,252.47 152.1,253.88 151.5,254.6C150.9,255.32 149.82,255.53 149,255.8C148.18,256.07 147.38,255.92 146.6,256.2C145.82,256.48 144.95,256.83 144.3,257.5C143.65,258.17 143.08,258.95 142.7,260.2C142.32,261.45 142,263.53 142,265C142,266.47 142.35,266.95 142.7,269C143.05,271.05 143.62,275.07 144.1,277.3C144.58,279.53 145.6,280.7 145.6,282.4C145.6,284.1 145.07,284.95 144.1,287.5C143.13,290.05 140.88,294.05 139.8,297.7C138.72,301.35 138.33,304.85 137.6,309.4C136.87,313.95 135.77,322.4 135.4,325" fill="none" stroke="#4654ae" stroke-width="1.4" stroke-linecap="butt" stroke-linejoin="round"/>
<path d="M59.8,277.3C61.93,278.52 68.03,281.92 72.6,284.6C77.17,287.28 82.82,290.37 87.2,293.4C91.58,296.43 95.5,299.65 98.9,302.8C102.3,305.95 105.3,308.6 107.6,312.3C109.9,316 111.85,322.88 112.7,325" fill="none" stroke="#4654ae" stroke-width="1.4" stroke-linecap="butt" stroke-linejoin="round"/>
<path d="M113.5,325C113.13,323.38 112.03,318.63 111.3,315.3C110.57,311.97 109.95,308.17 109.1,305C108.25,301.83 107.67,298.97 106.2,296.3C104.73,293.63 102.73,291.2 100.3,289C97.87,286.8 95,285.17 91.6,283.1C88.2,281.03 83.07,278.67 79.9,276.6C76.73,274.53 74.13,272.97 72.6,270.7C71.07,268.43 70.47,264.83 70.7,263C70.93,261.17 71.67,260.82 74,259.7C76.33,258.58 80.7,257.53 84.7,256.3C88.7,255.07 94.23,253.4 98,252.3C101.77,251.2 105.08,250.37 107.3,249.7C109.52,249.03 109.4,249.53 111.3,248.3C113.2,247.07 116.58,243.52 118.7,242.3C120.82,241.08 122.07,241.43 124,241C125.93,240.57 129.02,239.32 130.3,239.7C131.58,240.08 131.03,242.13 131.7,243.3C132.37,244.47 133.58,245.47 134.3,246.7C135.02,247.93 135.75,249.37 136,250.7C136.25,252.03 135.68,253.37 135.8,254.7C135.92,256.03 136.28,257.27 136.7,258.7C137.12,260.13 137.53,261.92 138.3,263.3C139.07,264.68 140.13,265.83 141.3,267C142.47,268.17 144.52,268.85 145.3,270.3C146.08,271.75 145.83,273.8 146,275.7C146.17,277.6 146.48,279.48 146.3,281.7C146.12,283.92 145.5,286.08 144.9,289C144.3,291.92 143.43,295.55 142.7,299.2C141.97,302.85 141.23,306.6 140.5,310.9C139.77,315.2 138.67,322.65 138.3,325" fill="none" stroke="#4654ae" stroke-width="1.4" stroke-linecap="butt" stroke-linejoin="round" stroke-dasharray="4.2 2.7"/>
<circle cx="118" cy="246.3" r="2.1" fill="#4654ae"/>
<circle cx="115.6" cy="263.3" r="2.1" fill="#4654ae"/>
<path d="M216.5,239.8C217.95,239.47 222.05,238.48 225.2,237.8C228.35,237.12 231.98,236.38 235.4,235.7C238.82,235.02 242.63,234.38 245.7,233.7C248.77,233.02 251.77,232.37 253.8,231.6C255.83,230.83 256.53,229.77 257.9,229.1C259.27,228.43 260.82,227.95 262,227.6C263.18,227.25 263.23,227.17 265,227C266.77,226.83 270.32,226.48 272.6,226.6C274.88,226.72 276.92,227.13 278.7,227.7C280.48,228.27 282.22,229.1 283.3,230C284.38,230.9 284.82,231.88 285.2,233.1C285.58,234.32 285.35,236.23 285.6,237.3C285.85,238.37 286.57,238.48 286.7,239.5C286.83,240.52 286.72,242.25 286.4,243.4C286.08,244.55 285.32,245.52 284.8,246.4C284.28,247.28 284.05,247.87 283.3,248.7C282.55,249.53 281.7,250.63 280.3,251.4C278.9,252.17 276.82,252.8 274.9,253.3C272.98,253.8 271.63,254.27 268.8,254.4C265.97,254.53 261.25,254.4 257.9,254.1C254.55,253.8 251.42,253.1 248.7,252.6C245.98,252.1 243.82,251.78 241.6,251.1C239.38,250.42 237.78,249.45 235.4,248.5C233.02,247.55 229.68,246.33 227.3,245.4C224.92,244.47 222.9,243.83 221.1,242.9C219.3,241.97 217.27,240.32 216.5,239.8" fill="none" stroke="#ea2a7e" stroke-width="1.4" stroke-linecap="butt" stroke-linejoin="round"/>
<path d="M259.5,229.1C260.08,229.13 261.38,229.17 263,229.3C264.62,229.43 266.98,229.6 269.2,229.9C271.42,230.2 274.58,230.57 276.3,231.1C278.02,231.63 278.08,232.58 279.5,233.1C280.92,233.62 283.15,234.02 284.8,234.2C286.45,234.38 288.18,233.82 289.4,234.2C290.62,234.58 291.53,235.62 292.1,236.5C292.67,237.38 292.8,238.35 292.8,239.5C292.8,240.65 292.42,242.25 292.1,243.4C291.78,244.55 291.6,245.83 290.9,246.4C290.2,246.97 288.78,246.8 287.9,246.8C287.02,246.8 286.5,246.08 285.6,246.4C284.7,246.72 283.52,247.87 282.5,248.7C281.48,249.53 280.63,250.52 279.5,251.4C278.37,252.28 277.1,253.05 275.7,254C274.3,254.95 272.5,256.2 271.1,257.1C269.7,258 268.98,259.13 267.3,259.4C265.62,259.67 264.1,258.73 261,258.7C257.9,258.67 252.62,259.2 248.7,259.2C244.78,259.2 240.9,259.12 237.5,258.7C234.1,258.28 230.68,257.72 228.3,256.7C225.92,255.68 224.05,254.13 223.2,252.6C222.35,251.07 222.7,248.95 223.2,247.5C223.7,246.05 224.17,244.92 226.2,243.9C228.23,242.88 232.15,242.33 235.4,241.4C238.65,240.47 242.63,239.33 245.7,238.3C248.77,237.27 251.77,236.05 253.8,235.2C255.83,234.35 256.95,234.22 257.9,233.2C258.85,232.18 259.23,229.78 259.5,229.1" fill="none" stroke="#ea2a7e" stroke-width="1.4" stroke-linecap="butt" stroke-linejoin="round" stroke-dasharray="4.2 2.7"/>
<circle cx="252" cy="240.8" r="2.1" fill="#ea2a7e"/>
<circle cx="268.1" cy="240.3" r="2.1" fill="#ea2a7e"/>
<path d="M410.4,262.5C412.55,262.07 418.58,260.93 423.3,259.9C428.02,258.87 433.58,257.57 438.7,256.3C443.82,255.03 449.57,253.5 454,252.3C458.43,251.1 461.98,249.92 465.3,249.1C468.62,248.28 471.05,247.48 473.9,247.4C476.75,247.32 480.27,248.02 482.4,248.6C484.53,249.18 485.83,249.95 486.7,250.9C487.57,251.85 487.88,252.73 487.6,254.3C487.32,255.87 486,258.17 485,260.3C484,262.43 482.75,264.97 481.6,267.1C480.45,269.23 479.38,271.23 478.1,273.1C476.82,274.97 475.18,276.43 473.9,278.3C472.62,280.17 471.55,281.87 470.4,284.3C469.25,286.73 468.28,290.18 467,292.9C465.72,295.62 464.18,298.45 462.7,300.6C461.22,302.75 459.72,304.33 458.1,305.8C456.48,307.27 454.53,308.32 453,309.4C451.47,310.48 450.27,311.65 448.9,312.3C447.53,312.95 446.85,313.23 444.8,313.3C442.75,313.37 440.18,313.1 436.6,312.7C433.02,312.3 427.67,311.45 423.3,310.9C418.93,310.35 412.55,309.65 410.4,309.4" fill="none" stroke="#4654ae" stroke-width="1.4" stroke-linecap="butt" stroke-linejoin="round"/>
<path d="M410.4,258.4C412.55,258.05 418.58,257.07 423.3,256.3C428.02,255.53 433.58,254.55 438.7,253.8C443.82,253.05 450.27,252.57 454,251.8C457.73,251.03 459.07,250.23 461.1,249.2C463.13,248.17 464.48,246.37 466.2,245.6C467.92,244.83 469.77,244.63 471.4,244.6C473.03,244.57 474.65,244.93 476,245.4C477.35,245.87 478.72,246.48 479.5,247.4C480.28,248.32 480.63,249.32 480.7,250.9C480.77,252.48 480.33,254.77 479.9,256.9C479.47,259.03 478.4,261.13 478.1,263.7C477.8,266.27 478.1,268.87 478.1,272.3C478.1,275.73 478.23,280.58 478.1,284.3C477.97,288.02 477.72,291.65 477.3,294.6C476.88,297.55 476.25,300.05 475.6,302C474.95,303.95 474.28,304.72 473.4,306.3C472.52,307.88 471.67,310.22 470.3,311.5C468.93,312.78 467.07,313.47 465.2,314C463.33,314.53 461.48,314.58 459.1,314.7C456.72,314.82 453.45,314.47 450.9,314.7C448.35,314.93 446.18,315.53 443.8,316.1C441.42,316.67 438.82,317.25 436.6,318.1C434.38,318.95 432.37,320.05 430.5,321.2C428.63,322.35 426.25,324.37 425.4,325" fill="none" stroke="#4654ae" stroke-width="1.4" stroke-linecap="butt" stroke-linejoin="round" stroke-dasharray="4.2 2.7"/>
<circle cx="453.5" cy="276.3" r="2.1" fill="#4654ae"/>
<circle cx="410.9" cy="282" r="2.1" fill="#4654ae"/>
<path d="M580.3,257C580.97,256.33 582.52,254.45 584.3,253C586.08,251.55 588.77,249.75 591,248.3C593.23,246.85 595.48,245.52 597.7,244.3C599.92,243.08 602.08,242.1 604.3,241C606.52,239.9 609,239.03 611,237.7C613,236.37 614.68,234.17 616.3,233C617.92,231.83 618.63,231.23 620.7,230.7C622.77,230.17 626.5,229.7 628.7,229.8C630.9,229.9 632.95,230.67 633.9,231.3C634.85,231.93 634.7,232.83 634.4,233.6C634.1,234.37 633.45,235.45 632.1,235.9C630.75,236.35 627.43,235.83 626.3,236.3C625.17,236.77 625.08,237.73 625.3,238.7C625.52,239.67 626.47,240.57 627.6,242.1C628.73,243.63 630.38,245.8 632.1,247.9C633.82,250 636.18,252.62 637.9,254.7C639.62,256.78 641.55,258.68 642.4,260.4C643.25,262.12 643.18,263.47 643,265C642.82,266.53 642.15,268.45 641.3,269.6C640.45,270.75 639.43,271.15 637.9,271.9C636.37,272.65 634.02,273.35 632.1,274.1C630.18,274.85 628.3,275.63 626.4,276.4C624.5,277.17 622.68,277.7 620.7,278.7C618.72,279.7 616.78,280.9 614.5,282.4C612.22,283.9 609.37,285.93 607,287.7C604.63,289.47 602.08,292.23 600.3,293C598.52,293.77 597.85,293.3 596.3,292.3C594.75,291.3 593,289.1 591,287C589,284.9 586.08,282.25 584.3,279.7C582.52,277.15 581.07,274.37 580.3,271.7C579.53,269.03 579.7,266.15 579.7,263.7C579.7,261.25 580.2,258.12 580.3,257" fill="none" stroke="#ea2a7e" stroke-width="1.4" stroke-linecap="butt" stroke-linejoin="round"/>
<path d="M567,262.3C568.12,261.63 571.03,259.85 573.7,258.3C576.37,256.75 579.9,254.55 583,253C586.1,251.45 589.42,250.67 592.3,249C595.18,247.33 597.85,244.22 600.3,243C602.75,241.78 604.37,241.65 607,241.7C609.63,241.75 613.62,242.65 616.1,243.3C618.58,243.95 619.98,244.75 621.9,245.6C623.82,246.45 625.7,247.17 627.6,248.4C629.5,249.63 631.88,251.47 633.3,253C634.72,254.53 635.53,255.98 636.1,257.6C636.67,259.22 636.88,261.18 636.7,262.7C636.52,264.22 636.13,265.37 635,266.7C633.87,268.03 631.72,269.27 629.9,270.7C628.08,272.13 625.87,273.92 624.1,275.3C622.33,276.68 621.27,277.6 619.3,279C617.33,280.4 614.57,282.03 612.3,283.7C610.03,285.37 607.92,287.67 605.7,289C603.48,290.33 601.45,291.48 599,291.7C596.55,291.92 593.88,291.2 591,290.3C588.12,289.4 584.82,287.63 581.7,286.3C578.58,284.97 574.53,283.85 572.3,282.3C570.07,280.75 568.97,279.22 568.3,277C567.63,274.78 568.52,271.45 568.3,269C568.08,266.55 567.22,263.42 567,262.3" fill="none" stroke="#ea2a7e" stroke-width="1.4" stroke-linecap="butt" stroke-linejoin="round" stroke-dasharray="4.2 2.7"/>
<circle cx="619.7" cy="252.3" r="2.1" fill="#ea2a7e"/>
<circle cx="607.7" cy="261.7" r="2.1" fill="#ea2a7e"/>
<path d="M89.3,434.5C90.67,433.82 94.18,431.67 97.5,430.4C100.82,429.13 105.88,427.98 109.2,426.9C112.52,425.82 115.65,424.78 117.4,423.9C119.15,423.02 119.42,422.47 119.7,421.6C119.98,420.73 119,419.87 119.1,418.7C119.2,417.53 119.42,415.67 120.3,414.6C121.18,413.53 122.55,412.88 124.4,412.3C126.25,411.72 128.68,411.2 131.4,411.1C134.12,411 137.98,411.32 140.7,411.7C143.42,412.08 146.13,412.62 147.7,413.4C149.27,414.18 149.6,414.93 150.1,416.4C150.6,417.87 150.7,420.55 150.7,422.2C150.7,423.85 150.6,425.03 150.1,426.3C149.6,427.57 148.48,428.83 147.7,429.8C146.92,430.77 146.08,431.23 145.4,432.1C144.72,432.97 143.9,433.73 143.6,435C143.3,436.27 143.4,438.13 143.6,439.7C143.8,441.27 144.4,442.65 144.8,444.4C145.2,446.15 145.73,448.27 146,450.2C146.27,452.13 146.3,453.7 146.4,456C146.5,458.3 146.87,460.92 146.6,464C146.33,467.08 145.58,471.48 144.8,474.5C144.02,477.52 142.97,480.43 141.9,482.1C140.83,483.77 139.77,484.5 138.4,484.5C137.03,484.5 135.65,483.18 133.7,482.1C131.75,481.02 129.82,479.65 126.7,478C123.58,476.35 118.88,474.53 115,472.2C111.12,469.87 106.7,466.73 103.4,464C100.1,461.27 97.15,458.13 95.2,455.8C93.25,453.47 92.53,451.9 91.7,450C90.87,448.1 90.55,446.4 90.2,444.4C89.85,442.4 89.75,439.65 89.6,438C89.45,436.35 89.35,435.08 89.3,434.5" fill="none" stroke="#4654ae" stroke-width="1.4" stroke-linecap="butt" stroke-linejoin="round"/>
<path d="M140.6,481C140.75,482.17 141.27,485.28 141.5,488C141.73,490.72 141.92,495.75 142,497.3" fill="none" stroke="#4654ae" stroke-width="1.4" stroke-linecap="butt" stroke-linejoin="round"/>
<path d="M150.1,497.3C150.28,495.25 150.82,489.97 151.2,485C151.58,480.03 152.1,472.33 152.4,467.5C152.7,462.67 153,458.88 153,456C153,453.12 152.88,451.95 152.4,450.2C151.92,448.45 150.88,447.05 150.1,445.5C149.32,443.95 148.18,442.45 147.7,440.9C147.22,439.35 147.38,437.77 147.2,436.2C147.02,434.63 146.42,432.87 146.6,431.5C146.78,430.13 147.82,429.35 148.3,428C148.78,426.65 149.4,424.75 149.5,423.4C149.6,422.05 149.97,420.78 148.9,419.9C147.83,419.02 145.43,418.6 143.1,418.1C140.77,417.6 136.85,416.9 134.9,416.9C132.95,416.9 132.57,417.42 131.4,418.1C130.23,418.78 129.47,420.32 127.9,421C126.33,421.68 124.53,421.9 122,422.2C119.47,422.5 115.8,422.42 112.7,422.8C109.6,423.18 106.32,423.63 103.4,424.5C100.48,425.37 97.55,426.43 95.2,428C92.85,429.57 90.18,432.43 89.3,433.9C88.42,435.37 88.53,435.45 89.9,436.8C91.27,438.15 94.67,440.45 97.5,442C100.33,443.55 103.58,445.22 106.9,446.1C110.22,446.98 114.48,446.8 117.4,447.3C120.32,447.8 122.45,448.22 124.4,449.1C126.35,449.98 127.73,451.15 129.1,452.6C130.47,454.05 132.07,455.32 132.6,457.8C133.13,460.28 132.8,464.32 132.3,467.5C131.8,470.68 130.73,473.98 129.6,476.9C128.47,479.82 126.67,482.87 125.5,485C124.33,487.13 123.27,487.65 122.6,489.7C121.93,491.75 121.68,496.03 121.5,497.3" fill="none" stroke="#4654ae" stroke-width="1.4" stroke-linecap="butt" stroke-linejoin="round" stroke-dasharray="4.2 2.7"/>
<path d="M138.8,484C138.82,485 138.88,487.78 138.9,490C138.92,492.22 138.9,496.08 138.9,497.3" fill="none" stroke="#4654ae" stroke-width="1.4" stroke-linecap="butt" stroke-linejoin="round" stroke-dasharray="4.2 2.7"/>
<circle cx="139" cy="421" r="2.1" fill="#4654ae"/>
<circle cx="139.6" cy="434.1" r="2.1" fill="#4654ae"/>
<path d="M239.1,413.4C239.78,412.88 241.33,411.15 243.2,410.3C245.07,409.45 247.42,408.88 250.3,408.3C253.18,407.72 257.43,407.23 260.5,406.8C263.57,406.37 266.65,406.05 268.7,405.7C270.75,405.35 271.95,405.12 272.8,404.7C273.65,404.28 272.95,403.8 273.8,403.2C274.65,402.6 276.37,401.78 277.9,401.1C279.43,400.42 281.47,399.6 283,399.1C284.53,398.6 285.73,398.35 287.1,398.1C288.47,397.85 290.08,397.43 291.2,397.6C292.32,397.77 293.47,398.52 293.8,399.1C294.13,399.68 293.63,400.42 293.2,401.1C292.77,401.78 291.37,402.35 291.2,403.2C291.03,404.05 291.52,405.35 292.2,406.2C292.88,407.05 294.37,407.45 295.3,408.3C296.23,409.15 297.38,410.12 297.8,411.3C298.22,412.48 298.22,414.45 297.8,415.4C297.38,416.35 296.23,416.82 295.3,417C294.37,417.18 293.05,416.93 292.2,416.5C291.35,416.07 290.7,415.43 290.2,414.4C289.7,413.37 289.72,411.23 289.2,410.3C288.68,409.37 287.97,408.97 287.1,408.8C286.23,408.63 284.85,408.88 284,409.3C283.15,409.72 282.5,410.1 282,411.3C281.5,412.5 281.52,414.97 281,416.5C280.48,418.03 279.92,419.32 278.9,420.5C277.88,421.68 276.6,422.73 274.9,423.6C273.2,424.47 271.1,425.35 268.7,425.7C266.3,426.05 263.22,426.05 260.5,425.7C257.78,425.35 254.95,424.63 252.4,423.6C249.85,422.57 247.25,420.77 245.2,419.5C243.15,418.23 241.12,417.02 240.1,416C239.08,414.98 239.27,413.83 239.1,413.4" fill="none" stroke="#ea2a7e" stroke-width="1.4" stroke-linecap="butt" stroke-linejoin="round"/>
<path d="M268.7,425.7C268.7,425.18 269.38,423.8 268.7,422.6C268.02,421.4 265.97,419.7 264.6,418.5C263.23,417.3 261.77,416.33 260.5,415.4C259.23,414.47 257.5,413.75 257,412.9C256.5,412.05 256.57,411.07 257.5,410.3C258.43,409.53 260.57,408.88 262.6,408.3C264.63,407.72 267.83,407.48 269.7,406.8C271.57,406.12 272.27,404.97 273.8,404.2C275.33,403.43 277.2,402.72 278.9,402.2C280.6,401.68 282.47,401.1 284,401.1C285.53,401.1 286.98,401.6 288.1,402.2C289.22,402.8 290.02,403.93 290.7,404.7C291.38,405.47 291.43,406.03 292.2,406.8C292.97,407.57 294.45,408.37 295.3,409.3C296.15,410.23 296.78,411.2 297.3,412.4C297.82,413.6 298.22,414.97 298.4,416.5C298.58,418.03 298.75,420.07 298.4,421.6C298.05,423.13 297.17,424.35 296.3,425.7C295.43,427.05 294.38,428.68 293.2,429.7C292.02,430.72 290.9,431.62 289.2,431.8C287.5,431.98 285.05,430.88 283,430.8C280.95,430.72 278.77,430.88 276.9,431.3C275.03,431.72 273,432.97 271.8,433.3C270.6,433.63 270.22,433.9 269.7,433.3C269.18,432.7 268.87,430.97 268.7,429.7C268.53,428.43 268.7,426.37 268.7,425.7" fill="none" stroke="#ea2a7e" stroke-width="1.4" stroke-linecap="butt" stroke-linejoin="round" stroke-dasharray="4.2 2.7"/>
<circle cx="266.7" cy="413.2" r="2.1" fill="#ea2a7e"/>
<circle cx="278.9" cy="417" r="2.1" fill="#ea2a7e"/>
<path d="M447.7,497.3C446.48,494.92 442.97,487.27 440.4,483C437.83,478.73 435,475.2 432.3,471.7C429.6,468.2 426.23,464.98 424.2,462C422.17,459.02 420.63,456.23 420.1,453.8C419.57,451.37 420.05,449.28 421,447.4C421.95,445.52 423.65,444.25 425.8,442.5C427.95,440.75 430.67,438.65 433.9,436.9C437.13,435.15 441.42,433.22 445.2,432C448.98,430.78 453.08,430.42 456.6,429.6C460.12,428.78 463.73,427.68 466.3,427.1C468.87,426.52 470.12,426.13 472,426.1C473.88,426.07 475.65,426.13 477.6,426.9C479.55,427.67 481.67,429.32 483.7,430.7C485.73,432.08 487.77,434.45 489.8,435.2C491.83,435.95 494.12,435.2 495.9,435.2C497.68,435.2 499.62,434.82 500.5,435.2C501.38,435.58 501.33,435.72 501.2,437.5C501.07,439.28 500.2,442.72 499.7,445.9C499.2,449.08 498.83,452.78 498.2,456.6C497.57,460.42 496.78,465 495.9,468.8C495.02,472.6 494.17,476.62 492.9,479.4C491.63,482.18 490.08,483.85 488.3,485.5C486.52,487.15 483.98,488.03 482.2,489.3C480.42,490.57 478.75,491.77 477.6,493.1C476.45,494.43 475.68,496.6 475.3,497.3" fill="none" stroke="#4654ae" stroke-width="1.4" stroke-linecap="butt" stroke-linejoin="round"/>
<path d="M410.4,449C412.43,448.47 418.68,447.42 422.6,445.8C426.52,444.18 430.13,441.33 433.9,439.3C437.67,437.27 441.68,434.95 445.2,433.6C448.72,432.25 452.3,431.73 455,431.2C457.7,430.67 459.52,430 461.4,430.4C463.28,430.8 464.42,432.25 466.3,433.6C468.18,434.95 470.57,437.47 472.7,438.5C474.83,439.53 477.02,439.2 479.1,439.8C481.18,440.4 483.67,440.95 485.2,442.1C486.73,443.25 487.67,444.55 488.3,446.7C488.93,448.85 488.88,451.83 489,455C489.12,458.17 489.07,461.37 489,465.7C488.93,470.03 488.67,475.73 488.6,481C488.53,486.27 488.6,494.58 488.6,497.3" fill="none" stroke="#4654ae" stroke-width="1.4" stroke-linecap="butt" stroke-linejoin="round" stroke-dasharray="4.2 2.7"/>
<path d="M410.4,474.1C411.35,475.58 414.2,479.13 416.1,483C418,486.87 420.85,494.92 421.8,497.3" fill="none" stroke="#4654ae" stroke-width="1.4" stroke-linecap="butt" stroke-linejoin="round" stroke-dasharray="4.2 2.7"/>
<circle cx="464.2" cy="454.7" r="2.1" fill="#4654ae"/>
<circle cx="475.5" cy="460.3" r="2.1" fill="#4654ae"/>
<path d="M605.6,431C606.68,430.2 609.93,427.27 612.1,426.2C614.27,425.13 616.43,424.6 618.6,424.6C620.77,424.6 623.22,425.27 625.1,426.2C626.98,427.13 628.28,428.85 629.9,430.2C631.52,431.55 632.92,433.35 634.8,434.3C636.68,435.25 639.45,435.23 641.2,435.9C642.95,436.57 644.35,436.42 645.3,438.3C646.25,440.18 646.77,443.82 646.9,447.2C647.03,450.58 646.63,454.82 646.1,458.6C645.57,462.38 644.78,466.93 643.7,469.9C642.62,472.87 641.63,475.05 639.6,476.4C637.57,477.75 634.47,478 631.5,478C628.53,478 624.77,477.48 621.8,476.4C618.83,475.32 616.13,473.38 613.7,471.5C611.27,469.62 609.08,467.25 607.2,465.1C605.32,462.95 603.47,460.77 602.4,458.6C601.33,456.43 600.8,454.53 600.8,452.1C600.8,449.67 601.73,446.7 602.4,444C603.07,441.3 604.27,438.07 604.8,435.9C605.33,433.73 605.47,431.82 605.6,431" fill="none" stroke="#ea2a7e" stroke-width="1.4" stroke-linecap="butt" stroke-linejoin="round"/>
<path d="M576.5,444C577.03,443.6 577.55,442.27 579.7,441.6C581.85,440.93 586.17,440.68 589.4,440C592.63,439.32 596.4,439.27 599.1,437.5C601.8,435.73 603.43,431.97 605.6,429.4C607.77,426.83 609.93,423.72 612.1,422.1C614.27,420.48 616.43,419.83 618.6,419.7C620.77,419.57 623.22,419.95 625.1,421.3C626.98,422.65 628.02,425.9 629.9,427.8C631.78,429.7 634.92,430.82 636.4,432.7C637.88,434.58 638.4,436.95 638.8,439.1C639.2,441.25 638.25,443.57 638.8,445.6C639.35,447.63 641.7,449.68 642.1,451.3C642.5,452.92 642.15,454.08 641.2,455.3C640.25,456.52 637.75,456.97 636.4,458.6C635.05,460.23 634.05,462.68 633.1,465.1C632.15,467.52 631.5,470.42 630.7,473.1C629.9,475.78 629.52,478.77 628.3,481.2C627.08,483.63 625.02,486.22 623.4,487.7C621.78,489.18 620.48,490.37 618.6,490.1C616.72,489.83 614.8,488.12 612.1,486.1C609.4,484.08 605.92,480.83 602.4,478C598.88,475.17 594.52,472.07 591,469.1C587.48,466.13 583.72,462.77 581.3,460.2C578.88,457.63 577.43,455.73 576.5,453.7C575.57,451.67 575.7,449.62 575.7,448C575.7,446.38 576.37,444.67 576.5,444" fill="none" stroke="#ea2a7e" stroke-width="1.4" stroke-linecap="butt" stroke-linejoin="round" stroke-dasharray="4.2 2.7"/>
<circle cx="619.9" cy="441.3" r="2.1" fill="#ea2a7e"/>
<circle cx="618.6" cy="448.5" r="2.1" fill="#ea2a7e"/>
</svg></body></html>
